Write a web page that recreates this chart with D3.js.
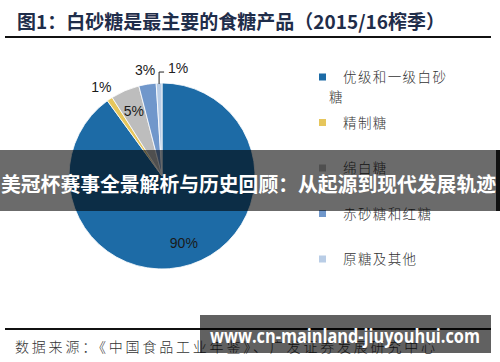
<!DOCTYPE html>
<html><head><meta charset="utf-8">
<script src="https://cdn.jsdelivr.net/npm/d3@7"></script>
<style>body{margin:0;background:#fff}svg{display:block}</style>
</head><body>
<script>
const titleText = "图1：白砂糖是最主要的食糖产品（2015/16榨季）";
const categories = ["优级和一级白砂糖","精制糖","绵白糖","赤砂糖和红糖","原糖及其他"];
const values = [90,1,5,3,1];
const valueLabels = ["90%","1%","5%","3%","1%"];
const colors = ["#1d6ba6","#e6c65c","#bdbdbd","#7097cb","#b9cde6"];
const sourceText = "数据来源：《中国食品工业年鉴》、广发证券发展研究中心";
const overlayText = "美冠杯赛事全景解析与历史回顾：从起源到现代发展轨迹";
const watermarkText = "www.cn-mainland-jiuyouhui.com";

const W=500,H=362;
const svg=d3.select("body").append("svg").attr("width",W).attr("height",H);
const cjk="'Noto Sans CJK SC','Noto Sans',sans-serif";

// title
svg.append("text").attr("x",17).attr("y",29).text(titleText)
  .attr("font-family",cjk).attr("font-weight",700).attr("font-size",19)
  .attr("fill","#1f2d4a").attr("textLength",428).attr("lengthAdjust","spacing");
svg.append("line").attr("x1",5).attr("x2",491).attr("y1",37).attr("y2",37)
  .attr("stroke","#111").attr("stroke-width",2);

// pie
const cx=162, cy=176, R=93;
const data=categories.map((c,i)=>({cat:c,value:values[i],label:valueLabels[i],color:colors[i]}));
const pie=d3.pie().value(d=>d.value).sort(null);
const arcs=pie(data);
const arc=d3.arc().innerRadius(0).outerRadius(R);
const g=svg.append("g").attr("transform",`translate(${cx},${cy})`);
g.selectAll("path").data(arcs).join("path").attr("d",arc)
  .attr("fill",d=>d.data.color).attr("stroke","#fff").attr("stroke-width",0.8);

const inArc=d3.arc().innerRadius(R*0.76).outerRadius(R*0.76);
const outArc=d3.arc().innerRadius(R*1.16).outerRadius(R*1.16);
arcs.forEach((a,i)=>{
  let x,y;
  if(a.data.value>=5){[x,y]=inArc.centroid(a);}
  else if(i<arcs.length-1){[x,y]=outArc.centroid(a);}
  else{
    const edge=d3.arc().innerRadius(R).outerRadius(R).centroid(a);
    const top=[edge[0],edge[1]-11];
    g.append("path").attr("d",d3.line()([[edge[0],edge[1]+1],top,[top[0]+5,top[1]]]))
      .attr("fill","none").attr("stroke","#222").attr("stroke-width",1);
    g.append("text").attr("x",top[0]+9).attr("y",top[1]+1).text(a.data.label)
      .attr("font-family","'Liberation Sans',Arial,sans-serif").attr("font-size",14).attr("fill","#222");
    return;
  }
  g.append("text").attr("x",x).attr("y",y).attr("dy","0.36em").attr("text-anchor","middle")
   .text(a.data.label).attr("font-family","'Liberation Sans',Arial,sans-serif")
   .attr("font-size",14).attr("fill","#1a1a1a");
});

// legend
const ly=d3.scalePoint().domain(categories).range([77,259]);
const lg=svg.append("g");
data.forEach(d=>{
  const y=ly(d.cat);
  lg.append("rect").attr("x",319).attr("y",y-3.5).attr("width",7).attr("height",7).attr("fill",d.color);
  const lines=[];
  for(let k=0;k<d.cat.length;k+=7) lines.push(d.cat.slice(k,k+7));
  lines.forEach((ln,j)=>{
    lg.append("text").attr("x",j===0?343:329).attr("y",y+5+j*20).text(ln)
      .attr("font-family",cjk).attr("font-weight",300).attr("font-size",13.5)
      .attr("letter-spacing",1.4).attr("fill","#333");
  });
});

// source
svg.append("line").attr("x1",5).attr("x2",491).attr("y1",329).attr("y2",329)
  .attr("stroke","#111").attr("stroke-width",2);
svg.append("text").attr("x",15).attr("y",352).text(sourceText)
  .attr("font-family",cjk).attr("font-weight",300).attr("font-size",14)
  .attr("fill","#333").attr("textLength",420).attr("lengthAdjust","spacing");

// overlay band
svg.append("rect").attr("x",0).attr("y",150).attr("width",500).attr("height",61).attr("fill","rgba(0,0,0,0.58)");
svg.append("rect").attr("x",496).attr("y",150).attr("width",4).attr("height",61).attr("fill","#111");
svg.append("text").attr("x",1).attr("y",192).text(overlayText)
  .attr("font-family",cjk).attr("font-weight",700).attr("font-size",20)
  .attr("fill","#fff").attr("textLength",495).attr("lengthAdjust","spacingAndGlyphs");

// watermark
svg.append("rect").attr("x",200).attr("y",315).attr("width",291).attr("height",38).attr("fill","rgba(0,0,0,0.62)");
svg.append("text").attr("x",210).attr("y",343).text(watermarkText)
  .attr("font-family","'Open Sans','DejaVu Sans',sans-serif").attr("font-weight",700).attr("font-size",19)
  .attr("fill","#fff").attr("textLength",270).attr("lengthAdjust","spacingAndGlyphs");
</script>
</body></html>
